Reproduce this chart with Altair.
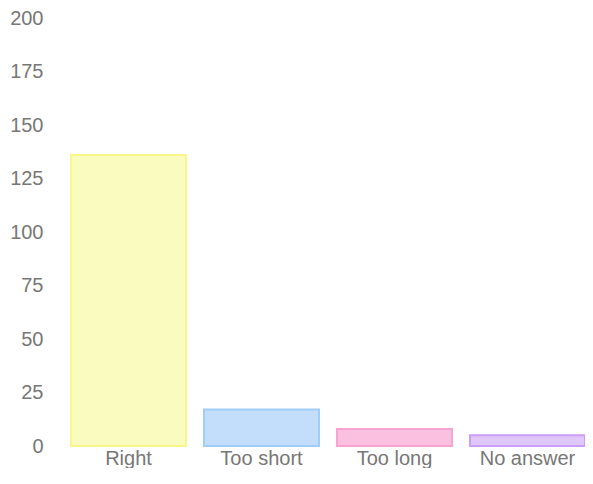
import altair as alt
import pandas as pd

categories = ["Right", "Too short", "Too long", "No answer"]
counts = [136, 17, 8, 5]
fill_colors = ["#fafbbf", "#c3defb", "#fbc0df", "#e0c7fa"]
stroke_colors = ["#f9f78c", "#9fcdf8", "#f9a3d0", "#cb9cf8"]
y_ticks = [0, 25, 50, 75, 100, 125, 150, 175, 200]

df = pd.DataFrame({"category": categories, "count": counts,
                   "fill": fill_colors, "stroke": stroke_colors})

x_enc = alt.X("category:N", sort=categories, title=None,
              scale=alt.Scale(paddingInner=0.135, paddingOuter=0.03, align=1),
              axis=alt.Axis(labelAngle=0, labelFontSize=20, labelColor="#777",
                            labelFont="Liberation Sans", ticks=False, domain=False,
                            labelPadding=2, grid=False))
y_enc = alt.Y("count:Q", title=None,
              scale=alt.Scale(domain=[0, 200], nice=False),
              axis=alt.Axis(values=y_ticks, labelFontSize=20, labelColor="#777",
                            labelFont="Liberation Sans", ticks=False, domain=False,
                            labelPadding=20, grid=False))

bars = alt.Chart(df).mark_bar(strokeWidth=2).encode(
    x=x_enc,
    y=y_enc,
    fill=alt.Fill("fill:N", scale=None),
    stroke=alt.Stroke("stroke:N", scale=None),
)

chart = bars.properties(
    width=522, height=428,
    autosize=alt.AutoSizeParams(type="none"),
    padding={"left": 55, "top": 10, "right": 0, "bottom": 22},
).configure_view(stroke=None)

chart.save("out.html", embed_options={"renderer": "svg", "actions": False})
